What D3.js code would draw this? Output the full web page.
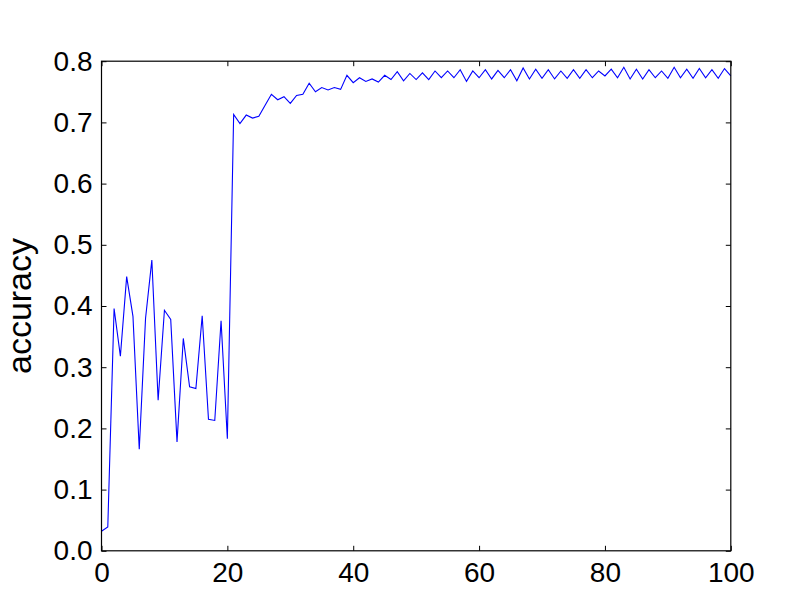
<!DOCTYPE html>
<html>
<head>
<meta charset="utf-8">
<script src="https://cdn.jsdelivr.net/npm/d3@7"></script>
<style>
  html, body { margin: 0; padding: 0; background: #fff; }
  svg { display: block; }
  text { font-family: "Liberation Sans", Arial, Helvetica, sans-serif; fill: #000; }
</style>
</head>
<body>
<svg id="chart" width="812" height="612"></svg>
<script>
// ---- data ----
const epochs = d3.range(0, 101);
const accuracy = [
  0.032, 0.039, 0.396, 0.318, 0.448, 0.383, 0.166, 0.380, 0.475, 0.246,
  0.393, 0.378, 0.178, 0.347, 0.268, 0.265, 0.384, 0.215, 0.213, 0.376,
  0.183, 0.713, 0.698, 0.712, 0.707, 0.710, 0.728, 0.746, 0.737, 0.742,
  0.731, 0.744, 0.746, 0.764, 0.750, 0.757, 0.753, 0.757, 0.754, 0.777,
  0.765, 0.773, 0.767, 0.771, 0.766, 0.777, 0.770, 0.783, 0.768, 0.780,
  0.770, 0.781, 0.770, 0.784, 0.773, 0.784, 0.773, 0.786, 0.767, 0.784,
  0.773, 0.786, 0.771, 0.785, 0.773, 0.786, 0.768, 0.789, 0.771, 0.787,
  0.772, 0.786, 0.771, 0.784, 0.772, 0.786, 0.772, 0.786, 0.773, 0.784,
  0.776, 0.787, 0.773, 0.790, 0.771, 0.787, 0.771, 0.786, 0.773, 0.784,
  0.772, 0.790, 0.773, 0.787, 0.772, 0.788, 0.773, 0.786, 0.772, 0.788,
  0.776
];
const xTicks = [0, 20, 40, 60, 80, 100];
const yTicks = [0.0, 0.1, 0.2, 0.3, 0.4, 0.5, 0.6, 0.7, 0.8];
const yLabel = "accuracy";

// ---- layout ----
const mLeft = 101.5, mRight = 730.8, mTop = 61.2, mBottom = 550.8;
const tickLen = 5;

const svg = d3.select("#chart");
const x = d3.scaleLinear().domain([0, 100]).range([mLeft, mRight]);
const y = d3.scaleLinear().domain([0, 0.8]).range([mBottom, mTop]);

// line
const line = d3.line().x((d, i) => x(epochs[i])).y(d => y(d));
svg.append("path")
  .datum(accuracy)
  .attr("fill", "none")
  .attr("stroke", "#0000ff")
  .attr("stroke-width", 1.1)
  .attr("stroke-linejoin", "miter")
  .attr("d", line);

// axes (inward ticks on all four sides)
const fs = 28;
const gB = svg.append("g").attr("transform", `translate(0,${mBottom})`)
  .call(d3.axisBottom(x).tickValues(xTicks).tickFormat(d3.format("d")).tickSizeInner(-tickLen).tickSizeOuter(0).tickPadding(11));
const gT = svg.append("g").attr("transform", `translate(0,${mTop})`)
  .call(d3.axisTop(x).tickValues(xTicks).tickFormat("").tickSizeInner(-tickLen).tickSizeOuter(0));
const gL = svg.append("g").attr("transform", `translate(${mLeft},0)`)
  .call(d3.axisLeft(y).tickValues(yTicks).tickFormat(d3.format(".1f")).tickSizeInner(-tickLen).tickSizeOuter(0).tickPadding(9));
const gR = svg.append("g").attr("transform", `translate(${mRight},0)`)
  .call(d3.axisRight(y).tickValues(yTicks).tickFormat("").tickSizeInner(-tickLen).tickSizeOuter(0));

[gB, gT, gL, gR].forEach(g => {
  g.select(".domain").remove();
  g.selectAll(".tick line").attr("stroke", "#000").attr("stroke-width", 1);
  g.selectAll("text").attr("font-size", fs).attr("font-family", '"Liberation Sans", Arial, sans-serif').attr("fill", "#000");
});

// frame
svg.append("rect")
  .attr("x", mLeft).attr("y", mTop)
  .attr("width", mRight - mLeft).attr("height", mBottom - mTop)
  .attr("fill", "none").attr("stroke", "#000").attr("stroke-width", 1.2);

// y label
svg.append("text")
  .attr("transform", `translate(31,${(mTop + mBottom) / 2}) rotate(-90)`)
  .attr("text-anchor", "middle")
  .attr("font-size", 34)
  .text(yLabel);
</script>
</body>
</html>
